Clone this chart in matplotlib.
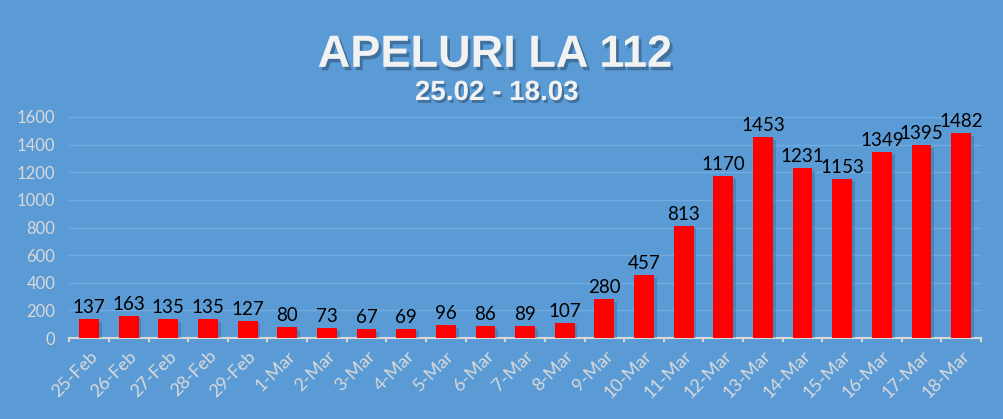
import matplotlib
matplotlib.use("Agg")
import matplotlib.pyplot as plt
import matplotlib.patheffects as pe

days = ['25-Feb', '26-Feb', '27-Feb', '28-Feb', '29-Feb', '1-Mar', '2-Mar', '3-Mar',
        '4-Mar', '5-Mar', '6-Mar', '7-Mar', '8-Mar', '9-Mar', '10-Mar', '11-Mar',
        '12-Mar', '13-Mar', '14-Mar', '15-Mar', '16-Mar', '17-Mar', '18-Mar']
calls = [137, 163, 135, 135, 127, 80, 73, 67, 69, 96, 86, 89, 107, 280, 457, 813,
         1170, 1453, 1231, 1153, 1349, 1395, 1482]
yticks = [0, 200, 400, 600, 800, 1000, 1200, 1400, 1600]

bg = '#5b9bd5'
light = '#d9d9d9'

fig = plt.figure(figsize=(10.04, 4.19), dpi=100, facecolor=bg)
ax = fig.add_axes([0.069, 0.193, 0.908, 0.528])
ax.set_facecolor(bg)

x = list(range(len(days)))
bars = ax.bar(x, calls, width=0.5, color='#ff0000', zorder=3)
for b in bars:
    b.set_path_effects([pe.SimplePatchShadow(offset=(2, -2), shadow_rgbFace='#2a5a8a', alpha=0.35),
                        pe.Normal()])

for xi, v in zip(x, calls):
    ax.text(xi, v + 22, str(v), ha='center', va='bottom', fontsize=13.5,
            family='Lato', color='black', zorder=4)

ax.set_xlim(-0.5, len(days) - 0.5)
ax.set_ylim(0, 1600)
ax.set_yticks(yticks)
ax.set_yticklabels([str(t) for t in yticks], family='Lato', fontsize=12, color=light)
ax.set_xticks(x)
ax.set_xticklabels(days, rotation=45, ha='right', rotation_mode='anchor',
                   family='Lato', fontsize=13, color=light)
ax.tick_params(axis='y', length=0, pad=10)
ax.tick_params(axis='x', length=0, pad=7)
ax.grid(axis='y', color='#72abdf', linewidth=1.0, zorder=0)
for s in ['top', 'right', 'left']:
    ax.spines[s].set_visible(False)
ax.spines['bottom'].set_color(light)
ax.spines['bottom'].set_linewidth(1.5)
# small category separator ticks on x axis
for k in range(len(days) + 1):
    ax.plot([k - 0.5, k - 0.5], [0, -18], color=light, lw=1.5, clip_on=False, zorder=4)

t1 = fig.text(0.493, 0.868, 'APELURI LA 112', ha='center', va='center', fontsize=32.5,
              fontweight='bold', family='Liberation Sans', color='#f2f2f2')
t1.set_path_effects([pe.SimplePatchShadow(offset=(2, -2.5), shadow_rgbFace='#2a4d70', alpha=0.55), pe.Normal()])
t2 = fig.text(0.495, 0.778, '25.02 - 18.03', ha='center', va='center', fontsize=20,
              fontweight='bold', family='Liberation Sans', color='#f2f2f2')
t2.set_path_effects([pe.SimplePatchShadow(offset=(1.5, -2), shadow_rgbFace='#2a4d70', alpha=0.55), pe.Normal()])

fig.savefig('out.png', dpi=100, facecolor=bg)
